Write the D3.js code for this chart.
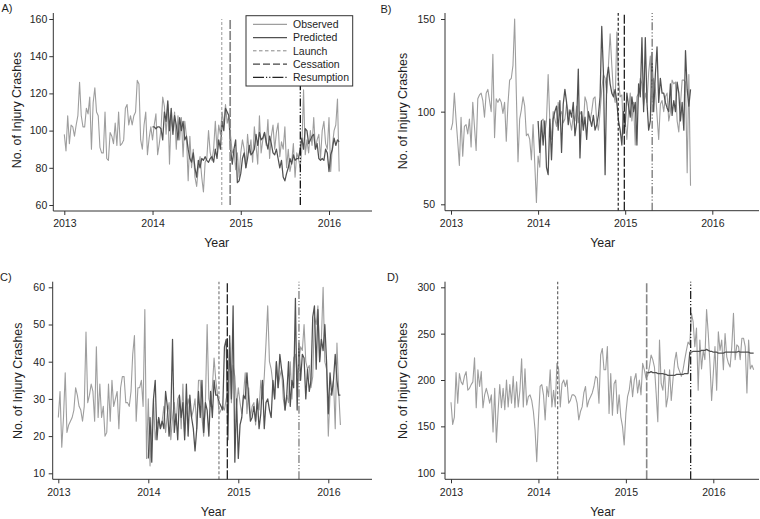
<!DOCTYPE html>
<html><head><meta charset="utf-8">
<script src="https://cdn.jsdelivr.net/npm/d3@7"></script>
<style>
body{margin:0;background:#fff}
svg{display:block;font-family:"Liberation Sans",Arial,Helvetica,sans-serif}
</style>
</head><body>
<svg id="c" width="760" height="519"></svg>
<script>
// ---------- data ----------
const years = [2013, 2014, 2015, 2016];
const panelLabels = ["A)", "B)", "C)", "D)"];
const legendLabels = ["Observed", "Predicted", "Launch", "Cessation", "Resumption"];
const yTitle = "No. of Injury Crashes";
const xTitle = "Year";

// weekly series; first value at the given start year
const aObservedStart = 2013;
const aObserved = [
 98,89,108,93,103,102,97,103,108,126,108,102,102,112,109,118,90,115,123,110,108,91,88,88,110,85,84,99,97,93,104,92,110,92,93,95,112,114,103,108,103,108,110,127,125,95,90,103,110,87,96,102,
 95,103,109,87,93,101,118,113,98,114,82,108,100,110,90,108,95,107,86,105,97,73,97,80,90,75,70,80,86,75,67,83,85,100,88,84,90,105,90,103,98,110,103,114,104,108,97,88,90,79,88,75,
 88,95,90,80,98,88,95,83,102,92,82,108,88,95,99,92,106,85,97,103,90,99,104,86,94,90,102,80,90,78,83,93,75,88,85,80,90,122,87,95,88,100,92,107,90,95,98,85,100,105,93,90,
 107,78,92,100,103,117,78];
const aPredictedStart = 2014;
const aPredicted = [
 102,102,101,102,102,101,95,110,105,116,100,112,98,108,103,95,107,100,105,95,97,90,85,83,88,80,75,84,80,85,84,86,84,83,85,86,83,90,85,95,90,105,100,112,110,108,90,82,90,95,72,73,
 77,85,88,80,85,92,87,88,90,98,92,99,95,96,99,94,90,97,93,88,87,90,85,80,84,75,73,77,80,85,82,87,84,85,85,90,96,90,101,100,93,95,97,98,90,93,85,84,85,84,90,88,
 78,87,90,96,92,95,94];
const aEvents = [2014.785, 2014.88, 2015.675];
const aYTicks = [60, 80, 100, 120, 140, 160];

const bObservedStart = 2013;
const bObserved = [
 90,94,110,96,84,71,97,76,92,93,88,96,81,105,92,79,107,109,110,106,97,110,112,106,100,131,86,107,105,107,105,99,105,84,104,117,118,125,150,110,73,96,101,108,103,87,88,85,74,93,72,51,
 76,70,95,96,88,95,120,95,85,100,96,92,105,98,100,94,96,104,100,95,90,98,95,103,94,100,98,92,108,105,97,95,100,107,108,95,90,100,112,120,118,110,125,142,125,110,105,143,117,108,109,88,
 95,85,100,110,95,105,82,108,110,118,115,103,110,105,121,130,104,118,112,98,85,104,106,100,108,110,95,100,117,115,116,95,89,104,117,117,116,67,120,60];
const bPredictedStart = 2014;
const bPredicted = [
 95,78,95,82,95,70,66,96,74,96,100,103,90,106,78,104,112,105,93,101,97,105,87,94,123,75,100,90,97,85,100,96,92,98,90,93,98,108,146,121,66,118,124,115,110,108,112,105,95,90,82,100,
 92,110,103,97,108,100,105,82,115,108,140,100,140,105,90,95,132,100,120,135,105,118,110,110,105,102,100,115,98,106,100,116,110,95,105,90,133,112,103,112];
const bEvents = [2014.92, 2014.99, 2015.31];
const bYTicks = [50, 100, 150];

const cObservedStart = 2013;
const cObserved = [
 25,32,17,25,37,21,23,24,25,27,33,31,28,27,24,28,48,29,31,34,32,24,44,25,34,25,28,20,21,34,24,35,28,30,32,22,33,36,36,29,29,28,32,42,47,24,33,33,35,28,54,14,
 30,12,22,30,19,23,25,22,24,28,21,26,29,19,25,29,23,30,31,22,34,20,26,30,28,25,27,30,22,35,35,25,20,29,50,30,28,33,41,35,31,26,27,28,27,30,32,45,29,39,36,28,
 33,29,26,31,37,26,33,25,28,29,23,30,27,35,30,36,45,55,40,38,34,30,40,33,36,38,30,27,31,29,40,30,41,42,36,40,44,43,50,40,38,39,33,36,52,50,55,40,46,60,40,38,
 20,31,32,35,22,45,32,23];
const cPredictedStart = 2014;
const cPredicted = [
 14,25,13,30,35,19,25,22,24,22,32,28,20,25,46,21,26,19,31,25,29,19,34,20,31,25,22,16,22,32,25,35,21,29,27,20,32,25,35,31,31,29,28,27,44,46,19,47,30,55,13,30,
 14,23,25,31,30,37,30,24,25,28,24,30,22,26,35,22,29,30,27,25,35,30,40,33,42,38,35,27,31,40,28,35,33,57,27,45,35,42,41,30,38,32,35,52,55,38,54,40,46,43,50,40,
 26,37,31,35,42,35,31,31];
const cEvents = [2014.785, 2014.878, 2015.674];
const cYTicks = [10, 20, 30, 40, 50, 60];

const dObservedStart = 2013;
const dObserved = [
 176,152,160,208,175,207,198,195,204,209,189,191,195,198,224,170,211,193,209,170,184,191,184,175,184,144,191,133,166,195,170,191,168,200,171,195,175,204,170,198,171,189,223,171,212,173,182,184,178,166,146,112,
 157,193,195,184,157,193,182,211,171,189,171,218,212,171,196,200,193,200,175,178,184,184,182,175,157,166,171,186,193,171,178,182,186,193,204,202,175,227,234,211,211,236,164,207,162,196,200,164,184,160,150,130,
 164,182,189,204,182,200,207,186,200,184,218,211,202,205,214,227,222,214,186,155,243,196,189,211,171,182,211,178,200,220,230,214,209,204,211,222,232,241,238,272,263,236,256,189,243,212,232,222,276,250,218,178,
 207,236,189,252,232,243,211,250,225,218,214,236,272,222,238,236,222,245,245,236,186,243,212,216,211];
const dPredictedStart = 2015 + 12 / 52;
const dPredicted = [
 207,208,208,209,208,208,208,207,207,207,207,206,206,205,205,205,205,205,206,206,206,206,206,207,207,207,
 230,230,231,231,231,231,231,232,232,232,233,232,231,231,
 230,230,230,229,229,229,229,230,230,230,230,230,230,230,230,231,230,230,230,230,230,230,229,229,229];
const dEvents = [2014.22, 2015.238, 2015.741];
const dYTicks = [100, 150, 200, 250, 300];

// ---------- styles / layout ----------
const OBS_COLOR = "#9e9e9e";
const PRED_COLOR = "#515151";
const AXIS_COLOR = "#333";
const TEXT_COLOR = "#1e1e1e";
const DASH_LAUNCH = "3,2";
const DASH_CESS = "9,2";
const DASH_RESUME = "8,2,1.2,2,1.2,2";

const panels = [
  {label: panelLabels[0], obs: aObserved, obsStart: aObservedStart, pred: aPredicted, predStart: aPredictedStart,
   events: aEvents, yTicks: aYTicks,
   L: {x0: 64.3, x1: 329, yv0: 60, yv1: 160, y0: 205, y1: 19, axL: 53.3, axR: 372, axB: 211, axT: 13, pad: 2,
       labX: 1.5, labY: 11.7, titX: 16.7, titY: 110, yrX: 216.7, yrY: 247.3, evT: 19, evB: 205},
   ev: [{c: "#999", d: DASH_LAUNCH, w: 1}, {c: "#888", d: DASH_CESS, w: 1.7}, {c: "#111", d: DASH_RESUME, w: 1.3}],
   legend: true},
  {label: panelLabels[1], obs: bObserved, obsStart: bObservedStart, pred: bPredicted, predStart: bPredictedStart,
   events: bEvents, yTicks: bYTicks,
   L: {x0: 451, x1: 712.3, yv0: 50, yv1: 150, y0: 204.3, y1: 19, axL: 445, axR: 759, axB: 210.7, axT: 13, pad: 6,
       labX: 380.5, labY: 13, titX: 403, titY: 111, yrX: 602.7, yrY: 247.3, evT: 13, evB: 210.7},
   ev: [{c: "#222", d: DASH_LAUNCH, w: 1.2}, {c: "#222", d: DASH_CESS, w: 1.3}, {c: "#888", d: DASH_RESUME, w: 1.5}]},
  {label: panelLabels[2], obs: cObserved, obsStart: cObservedStart, pred: cPredicted, predStart: cPredictedStart,
   events: cEvents, yTicks: cYTicks,
   L: {x0: 58.3, x1: 328.3, yv0: 10, yv1: 60, y0: 473.3, y1: 287.3, axL: 52.7, axR: 372, axB: 479.3, axT: 281.7, pad: 3.7,
       labX: 0, labY: 280.5, titX: 17.3, titY: 380.8, yrX: 213.3, yrY: 515.5, evT: 281.7, evB: 479.3},
   ev: [{c: "#888", d: DASH_LAUNCH, w: 1.3}, {c: "#222", d: DASH_CESS, w: 1.3}, {c: "#888", d: DASH_RESUME, w: 1.4}]},
  {label: panelLabels[3], obs: dObserved, obsStart: dObservedStart, pred: dPredicted, predStart: dPredictedStart,
   events: dEvents, yTicks: dYTicks,
   L: {x0: 451, x1: 713.3, yv0: 100, yv1: 300, y0: 472.7, y1: 287.3, axL: 445, axR: 759, axB: 479.3, axT: 281.7, pad: 6,
       labX: 387, labY: 280.5, titX: 403, titY: 380.8, yrX: 602.7, yrY: 515.5, evT: 281.7, evB: 479.3},
   ev: [{c: "#666", d: DASH_LAUNCH, w: 1.2}, {c: "#888", d: DASH_CESS, w: 1.6}, {c: "#222", d: DASH_RESUME, w: 1.3}]}
];

const svg = d3.select("#c");

panels.forEach(p => {
  const L = p.L;
  const g = svg.append("g");
  const x = d3.scaleLinear().domain([years[0], years[years.length - 1]]).range([L.x0, L.x1]);
  const y = d3.scaleLinear().domain([L.yv0, L.yv1]).range([L.y0, L.y1]);

  // series
  const line = start => d3.line().x((d, i) => x(start + i / 52)).y(d => y(d));
  g.append("path").datum(p.obs).attr("d", line(p.obsStart))
    .attr("fill", "none").attr("stroke", OBS_COLOR).attr("stroke-width", 1.1).attr("stroke-linejoin", "round");
  g.append("path").datum(p.pred).attr("d", line(p.predStart))
    .attr("fill", "none").attr("stroke", PRED_COLOR).attr("stroke-width", 1.25).attr("stroke-linejoin", "round");

  // event lines
  g.selectAll("line.ev").data(p.events).join("line").attr("class", "ev")
    .attr("x1", d => x(d)).attr("x2", d => x(d))
    .attr("y1", L.evB).attr("y2", L.evT)
    .attr("stroke", (d, i) => p.ev[i].c)
    .attr("stroke-width", (d, i) => p.ev[i].w)
    .attr("stroke-dasharray", (d, i) => p.ev[i].d);

  // axes
  const xa = g.append("g").attr("transform", `translate(0,${L.axB})`)
    .call(d3.axisBottom(x).tickValues(years).tickFormat(d3.format("d")).tickSize(4).tickSizeOuter(0).tickPadding(5));
  const ya = g.append("g").attr("transform", `translate(${L.axL},0)`)
    .call(d3.axisLeft(y).tickValues(p.yTicks).tickSize(4).tickSizeOuter(0).tickPadding(L.pad));
  [xa, ya].forEach(a => {
    a.select(".domain").remove();
    a.selectAll("line").attr("stroke", AXIS_COLOR);
    a.selectAll("text").attr("fill", TEXT_COLOR).style("font-size", "10.5px")
      .style("font-family", '"Liberation Sans",Arial,sans-serif');
  });
  g.append("line").attr("x1", L.axL).attr("x2", L.axR).attr("y1", L.axB).attr("y2", L.axB)
    .attr("stroke", AXIS_COLOR).attr("stroke-width", 1);
  g.append("line").attr("x1", L.axL).attr("x2", L.axL).attr("y1", L.axT).attr("y2", L.axB)
    .attr("stroke", AXIS_COLOR).attr("stroke-width", 1);

  // titles
  g.append("text").attr("x", L.yrX).attr("y", L.yrY).attr("text-anchor", "middle")
    .attr("fill", TEXT_COLOR).style("font-size", "12.4px").text(xTitle);
  g.append("text").attr("transform", `translate(${L.titX + 4.4},${L.titY}) rotate(-90)`).attr("text-anchor", "middle")
    .attr("fill", TEXT_COLOR).style("font-size", "12.4px").text(yTitle);
  g.append("text").attr("x", L.labX).attr("y", L.labY).attr("fill", TEXT_COLOR)
    .style("font-size", "11px").text(p.label);

  // legend
  if (p.legend) {
    const lg = g.append("g");
    lg.append("rect").attr("x", 246).attr("y", 15.7).attr("width", 106.7).attr("height", 70.3)
      .attr("fill", "#fff").attr("stroke", "#333").attr("stroke-width", 1);
    const legStyles = [
      {c: OBS_COLOR, d: null, w: 1.3},
      {c: PRED_COLOR, d: null, w: 1.3},
      {c: "#888", d: "3.5,2.5", w: 1},
      {c: "#444", d: "7,3", w: 1.2},
      {c: "#222", d: "11,2,1.2,2,1.2,2", w: 1.2}
    ];
    const rows = lg.selectAll("g.row").data(legendLabels).join("g").attr("class", "row")
      .attr("transform", (d, i) => `translate(0,${24.3 + i * 13.25})`);
    rows.append("line").attr("x1", 253).attr("x2", 287).attr("y1", 0).attr("y2", 0)
      .attr("stroke", (d, i) => legStyles[i].c).attr("stroke-width", (d, i) => legStyles[i].w)
      .attr("stroke-dasharray", (d, i) => legStyles[i].d);
    rows.append("text").attr("x", 293).attr("y", 3.8).attr("fill", TEXT_COLOR)
      .style("font-size", "10.5px").text(d => d);
  }
});
</script>
</body></html>
